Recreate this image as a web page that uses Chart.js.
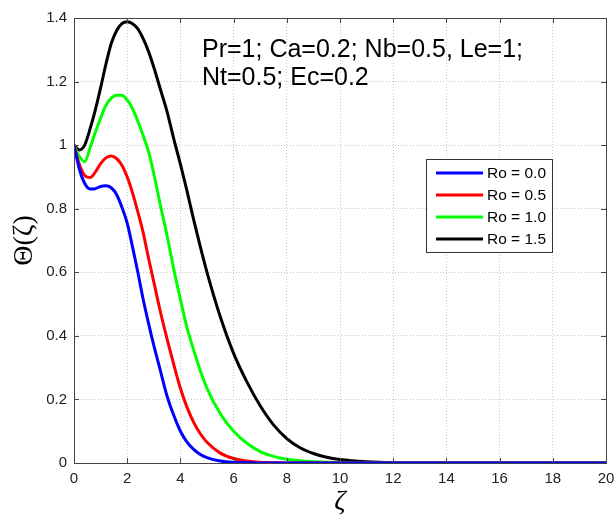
<!DOCTYPE html>
<html>
<head>
<meta charset="utf-8">
<script src="https://cdn.jsdelivr.net/npm/chart.js@4.4.1/dist/chart.umd.min.js"></script>
<style>
  html, body { margin: 0; padding: 0; background: #fff; }
</style>
</head>
<body>
<canvas id="c" width="616" height="522"></canvas>
<script>
// zeta grid and Theta(zeta), one list per Ro value
const zeta = [0, 0.2, 0.4, 0.6, 0.8, 1.0, 1.2, 1.4, 1.6, 1.8, 2.0, 2.2, 2.4, 2.6, 2.8, 3.0,
  3.25, 3.5, 3.75, 4.0, 4.25, 4.5, 4.75, 5.0, 5.5, 6.0, 6.5, 7.0, 7.5, 8.0, 8.5, 9.0, 9.5,
  10.0, 11.0, 12.0, 14.0, 16.0, 18.0, 20.0];
const ro00 = [1.0, 0.925, 0.88, 0.862, 0.863, 0.870, 0.872, 0.866, 0.845, 0.805, 0.755, 0.68,
  0.60, 0.515, 0.44, 0.37, 0.29, 0.21, 0.15, 0.10, 0.066, 0.043, 0.027, 0.017, 0.006, 0.002,
  0.001, 0, 0, 0, 0, 0, 0, 0, 0, 0, 0, 0, 0, 0];
const ro05 = [1.0, 0.94, 0.905, 0.898, 0.915, 0.942, 0.960, 0.966, 0.958, 0.937, 0.90, 0.85,
  0.79, 0.725, 0.645, 0.57, 0.475, 0.39, 0.31, 0.235, 0.175, 0.128, 0.092, 0.065, 0.031, 0.014,
  0.006, 0.002, 0.001, 0, 0, 0, 0, 0, 0, 0, 0, 0, 0, 0];
const ro10 = [1.0, 0.965, 0.948, 0.99, 1.04, 1.085, 1.125, 1.148, 1.157, 1.157, 1.142, 1.115,
  1.075, 1.03, 0.98, 0.91, 0.81, 0.715, 0.61, 0.515, 0.425, 0.355, 0.29, 0.235, 0.155, 0.10,
  0.062, 0.036, 0.021, 0.012, 0.007, 0.004, 0.002, 0.001, 0, 0, 0, 0, 0, 0];
const ro15 = [1.0, 0.985, 1.0, 1.05, 1.11, 1.18, 1.255, 1.32, 1.36, 1.382, 1.388, 1.382,
  1.366, 1.335, 1.295, 1.245, 1.175, 1.105, 1.02, 0.94, 0.855, 0.765, 0.68, 0.60, 0.46, 0.345,
  0.255, 0.18, 0.12, 0.077, 0.048, 0.03, 0.018, 0.011, 0.004, 0.001, 0, 0, 0, 0];

const seriesLabels = ["Ro = 0.0", "Ro = 0.5", "Ro = 1.0", "Ro = 1.5"];
const seriesColors = ["#0000ff", "#ff0000", "#00ff00", "#000000"];
const seriesValues = [ro00, ro05, ro10, ro15];

const xTicks = [0, 2, 4, 6, 8, 10, 12, 14, 16, 18, 20];
const yTicks = [0, 0.2, 0.4, 0.6, 0.8, 1, 1.2, 1.4];
const noteLines = ["Pr=1; Ca=0.2; Nb=0.5, Le=1;", "Nt=0.5; Ec=0.2"];

const sansFont = "'Liberation Sans', Arial, sans-serif";
const serifFont = "'Liberation Serif', 'DejaVu Serif', serif";

// frame, inward ticks, note text and the boxed legend, drawn like the MATLAB figure
const figureExtras = {
  id: "figureExtras",
  afterDatasetsDraw(chart) {
    const { ctx, chartArea: a, scales } = chart;
    ctx.save();
    ctx.strokeStyle = "#444";
    ctx.lineWidth = 1;
    ctx.beginPath();
    xTicks.forEach(v => {
      const px = Math.round(scales.x.getPixelForValue(v)) + 0.5;
      ctx.moveTo(px, a.bottom); ctx.lineTo(px, a.bottom - 5);
      ctx.moveTo(px, a.top); ctx.lineTo(px, a.top + 5);
    });
    yTicks.forEach(v => {
      const py = Math.round(scales.y.getPixelForValue(v)) + 0.5;
      ctx.moveTo(a.left, py); ctx.lineTo(a.left + 5, py);
      ctx.moveTo(a.right, py); ctx.lineTo(a.right - 5, py);
    });
    ctx.stroke();
    ctx.strokeRect(Math.round(a.left) + 0.5, Math.round(a.top) + 0.5,
      Math.round(a.right - a.left), Math.round(a.bottom - a.top));

    // parameter note
    ctx.fillStyle = "#000";
    ctx.font = "25px " + sansFont;
    ctx.textBaseline = "alphabetic";
    ctx.textAlign = "left";
    noteLines.forEach((t, i) => ctx.fillText(t, 202, 57 + i * 28));

    // legend
    const lx = 426, ly = 159, lw = 126, lh = 93;
    ctx.fillStyle = "#fff";
    ctx.fillRect(lx, ly, lw, lh);
    ctx.strokeStyle = "#333";
    ctx.strokeRect(lx + 0.5, ly + 0.5, lw, lh);
    ctx.font = "15.5px " + sansFont;
    ctx.textBaseline = "middle";
    chart.data.datasets.forEach((ds, i) => {
      const yy = ly + 14 + i * 22;
      ctx.strokeStyle = ds.borderColor;
      ctx.lineWidth = 3;
      ctx.beginPath();
      ctx.moveTo(lx + 10, yy); ctx.lineTo(lx + 57, yy);
      ctx.stroke();
      ctx.fillStyle = "#000";
      ctx.fillText(ds.label, lx + 61, yy + 1);
    });
    ctx.restore();
  }
};

new Chart(document.getElementById("c"), {
  type: "scatter",
  data: {
    datasets: seriesValues.map((vals, i) => ({
      label: seriesLabels[i],
      data: zeta.map((z, j) => ({ x: z, y: vals[j] })),
      showLine: true,
      borderColor: seriesColors[i],
      backgroundColor: seriesColors[i],
      borderWidth: 3,
      pointRadius: 0,
      cubicInterpolationMode: "monotone"
    }))
  },
  options: {
    responsive: false,
    animation: false,
    devicePixelRatio: 1,
    layout: { padding: { top: 18, right: 0, left: 0, bottom: 0 } },
    plugins: { legend: { display: false }, tooltip: { enabled: false } },
    scales: {
      x: {
        type: "linear",
        min: 0, max: 20,
        afterBuildTicks: s => { s.ticks = xTicks.map(v => ({ value: v })); },
        afterFit: s => { s.height = 59; s.paddingRight = 10; s.paddingLeft = 0; },
        grid: { color: "#c8c8c8", drawTicks: false },
        border: { display: false, dash: [1, 2] },
        ticks: { color: "#222", padding: 7, font: { family: sansFont, size: 15 }, maxRotation: 0 },
        title: {
          display: true, text: "ζ", color: "#000", padding: { top: 0, bottom: 4 },
          font: { family: serifFont, size: 28, style: "italic" }
        }
      },
      y: {
        type: "linear",
        min: 0, max: 1.4,
        afterBuildTicks: s => { s.ticks = yTicks.map(v => ({ value: v })); },
        afterFit: s => { s.width = 74; },
        grid: { color: "#c8c8c8", drawTicks: false },
        border: { display: false, dash: [1, 2] },
        ticks: {
          color: "#222", padding: 7, font: { family: sansFont, size: 15 },
          callback: v => String(Math.round(v * 10) / 10)
        },
        title: {
          display: true, text: "Θ(ζ)", color: "#000", padding: { top: 8, bottom: 0 },
          font: { family: serifFont, size: 28 }
        }
      }
    }
  },
  plugins: [figureExtras]
});
</script>
</body>
</html>
